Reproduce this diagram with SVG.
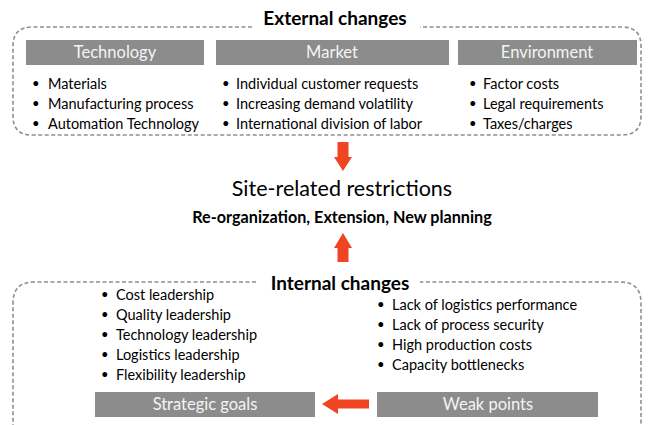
<svg xmlns="http://www.w3.org/2000/svg" width="649" height="425" viewBox="0 0 649 425">
<style>
text{font-family:Lato,"Open Sans","Liberation Sans",sans-serif;fill:#000}
.dash{fill:none;stroke:#8f8f8f;stroke-width:1.6;stroke-dasharray:4 2.5}
.bar{fill:#8c8c8c}
.hd{fill:#f4f4f4;font-size:16.5px;text-anchor:middle}
.li{font-size:14.5px}
.b{font-size:13px}
.ttl{font-size:19px;font-weight:bold;text-anchor:middle}
.arr{fill:#f04523}
</style>
<defs>
<text id="bul" class="b">•</text>
</defs>
<rect width="649" height="425" fill="#fff"/>
<g id="external">
<path class="dash" d="M252,27 H32 Q13,27 13,46 V116 Q13,135 32,135 H622 Q641,135 641,116 V46 Q641,27 622,27 H420"/>
<text class="ttl" x="335" y="25">External changes</text>
</g>
<g id="technology">
<rect class="bar" x="26" y="40" width="178" height="25"/>
<text class="hd" x="115" y="58">Technology</text>
<use href="#bul" x="32" y="88"/><use href="#bul" x="32" y="108"/><use href="#bul" x="32" y="128"/>
<text class="li" x="48" y="89">Materials</text>
<text class="li" x="48" y="109">Manufacturing process</text>
<text class="li" x="48" y="129">Automation Technology</text>
</g>
<g id="market">
<rect class="bar" x="216" y="40" width="233" height="25"/>
<text class="hd" x="332" y="58">Market</text>
<use href="#bul" x="222" y="88"/><use href="#bul" x="222" y="108"/><use href="#bul" x="222" y="128"/>
<text class="li" x="236" y="89">Individual customer requests</text>
<text class="li" x="236" y="109">Increasing demand volatility</text>
<text class="li" x="236" y="129">International division of labor</text>
</g>
<g id="environment">
<rect class="bar" x="458" y="40" width="179" height="25"/>
<text class="hd" x="547" y="58">Environment</text>
<use href="#bul" x="469" y="88"/><use href="#bul" x="469" y="108"/><use href="#bul" x="469" y="128"/>
<text class="li" x="483" y="89">Factor costs</text>
<text class="li" x="483" y="109">Legal requirements</text>
<text class="li" x="483" y="129">Taxes/charges</text>
</g>
<g id="restrictions">
<text x="342" y="196" font-size="21.5" text-anchor="middle">Site-related restrictions</text>
<text x="342" y="223" font-size="16.2" font-weight="bold" text-anchor="middle">Re-organization, Extension, New planning</text>
</g>
<g id="internal">
<path class="dash" d="M256,282 H34 Q13,282 13,303 V430 M641,430 V303 Q641,282 620,282 H420"/>
<text class="ttl" x="340" y="290">Internal changes</text>
</g>
<g id="strategic-goals">
<use href="#bul" x="101" y="299"/><use href="#bul" x="101" y="319"/><use href="#bul" x="101" y="339"/><use href="#bul" x="101" y="359"/><use href="#bul" x="101" y="379"/>
<text class="li" x="116" y="300">Cost leadership</text>
<text class="li" x="116" y="320">Quality leadership</text>
<text class="li" x="116" y="340">Technology leadership</text>
<text class="li" x="116" y="360">Logistics leadership</text>
<text class="li" x="116" y="380">Flexibility leadership</text>
<rect class="bar" x="95" y="392" width="220" height="25"/>
<text class="hd" x="205" y="410">Strategic goals</text>
</g>
<g id="weak-points">
<use href="#bul" x="377" y="309"/><use href="#bul" x="377" y="329"/><use href="#bul" x="377" y="349"/><use href="#bul" x="377" y="369"/>
<text class="li" x="392" y="310">Lack of logistics performance</text>
<text class="li" x="392" y="330">Lack of process security</text>
<text class="li" x="392" y="350">High production costs</text>
<text class="li" x="392" y="370">Capacity bottlenecks</text>
<rect class="bar" x="377" y="392" width="221" height="25"/>
<text class="hd" x="488" y="410">Weak points</text>
</g>
<g id="connectors">
<path class="arr" d="M337.5,142 H348.5 V157 H352 L343,171 L334,157 H337.5 Z"/>
<path class="arr" d="M337.5,262 H348.5 V248 H352 L343,233 L334,248 H337.5 Z"/>
<path class="arr" d="M369,399.5 V408.5 H338 V414 L322,404 L338,394 V399.5 Z"/>
</g>
</svg>
